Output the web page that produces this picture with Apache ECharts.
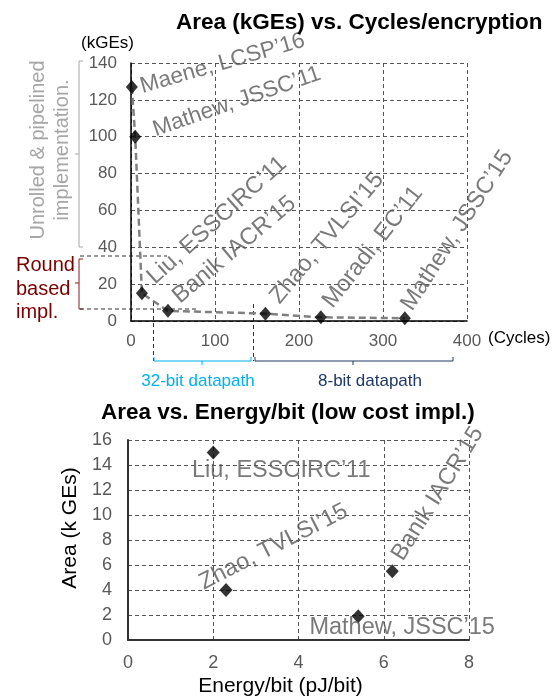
<!DOCTYPE html>
<html>
<head>
<meta charset="utf-8">
<script src="https://cdn.jsdelivr.net/npm/echarts@6/dist/echarts.min.js"></script>
<style>
html,body{margin:0;padding:0;background:#fff;}
#c{width:559px;height:698px;}
</style>
</head>
<body>
<div id="c"></div>
<script>
// ---- Data: top chart (Area vs Cycles/encryption) ----
const cycleNames = ['Maene, LCSP’16','Mathew, JSSC’11','Liu, ESSCIRC’11','Banik IACR’15','Zhao, TVLSI’15','Moradi, EC’11','Mathew, JSSC’15'];
const cycles = [1, 5, 13, 44, 160, 226, 326];
const areaKGE = [127, 100, 15, 5.5, 4, 2, 1.5];
const cycleTicks = [0, 100, 200, 300, 400];
const areaTicks = [0, 20, 40, 60, 80, 100, 120, 140];

// ---- Data: bottom chart (Area vs Energy/bit) ----
const energyNames = ['Liu, ESSCIRC’11','Zhao, TVLSI’15','Mathew, JSSC’15','Banik IACR’15'];
const energyPJ = [2.0, 2.3, 5.4, 6.2];
const areaLow = [15, 4, 1.9, 5.5];

// ---- Label styling (not data) ----
const topLabelStyle = {
  'Maene, LCSP’16':   {position:'right', rotate:16, distance:3, offset:[0,0], size:22.5},
  'Mathew, JSSC’11':  {position:'right', rotate:19, distance:0, offset:[14,-2], size:22.5},
  'Liu, ESSCIRC’11':  {position:'right', rotate:42, distance:0, offset:[11,-8], size:23.5},
  'Banik IACR’15':    {position:'right', rotate:40, distance:0, offset:[9,-8], size:23.5},
  'Zhao, TVLSI’15':   {position:'right', rotate:50, distance:0, offset:[12,-6], size:23.5},
  'Moradi, EC’11':    {position:'right', rotate:52, distance:0, offset:[10,-7], size:23.5},
  'Mathew, JSSC’15':  {position:'right', rotate:57, distance:0, offset:[6,-9], size:23.5}
};
const botLabelStyle = {
  'Liu, ESSCIRC’11':  {position:'bottom', rotate:0, distance:0, offset:[68,11], align:'center'},
  'Zhao, TVLSI’15':   {position:'left', rotate:27, distance:0, offset:[-14,-14], align:'left'},
  'Mathew, JSSC’15':  {position:'inside', rotate:0, distance:0, offset:[44,11], align:'center'},
  'Banik IACR’15':    {position:'right', rotate:58, distance:0, offset:[10,-8], align:'left'}
};

const FONT = 'Liberation Sans, Arial, sans-serif';
const GRAY = '#595959';
const gridLine = {show:true, lineStyle:{color:'#555', width:1, type:[4,3]}};

const topPoints = cycles.map((c,i)=>{
  const s = topLabelStyle[cycleNames[i]];
  return {value:[c, areaKGE[i]], name:cycleNames[i],
    label:{show:true, formatter:cycleNames[i], position:s.position, rotate:s.rotate, distance:s.distance, offset:s.offset, fontSize:s.size, align:'left', verticalAlign:'middle'}};
});
const botPoints = energyPJ.map((e,i)=>{
  const s = botLabelStyle[energyNames[i]];
  return {value:[e, areaLow[i]], name:energyNames[i],
    label:{show:true, formatter:energyNames[i], position:s.position, rotate:s.rotate, distance:s.distance, offset:s.offset, align:s.align, verticalAlign:'middle'}};
});

const chart = echarts.init(document.getElementById('c'), null, {renderer:'canvas'});
const option = {
  animation:false,
  backgroundColor:'#fff',
  textStyle:{fontFamily:FONT},
  title:[
    {text:'Area (kGEs) vs. Cycles/encryption', left:171, top:6,
     textStyle:{fontFamily:FONT, fontWeight:'bold', fontSize:22.5, color:'#000'}},
    {text:'Area vs. Energy/bit (low cost impl.)', left:96, top:396,
     textStyle:{fontFamily:FONT, fontWeight:'bold', fontSize:22.5, color:'#000'}}
  ],
  grid:[
    {left:131, right:92, top:63, bottom:377, containLabel:false},
    {left:128, right:90, top:440, bottom:57, containLabel:false}
  ],
  xAxis:[
    {gridIndex:0, type:'value', min:cycleTicks[0], max:cycleTicks[cycleTicks.length-1], interval:100,
     axisLine:{show:true, onZero:false, lineStyle:{color:'#000', width:1.5}},
     axisTick:{show:false}, splitLine:gridLine,
     axisLabel:{color:GRAY, fontSize:17, margin:12, fontFamily:FONT},
     name:'(Cycles)', nameLocation:'end', nameGap:21,
     nameTextStyle:{color:'#000', fontSize:17, fontFamily:FONT, align:'left', verticalAlign:'top', padding:[9,0,0,0]}},
    {gridIndex:1, type:'value', min:0, max:8, interval:2,
     axisLine:{show:true, onZero:false, lineStyle:{color:'#333', width:2}},
     axisTick:{show:false}, splitLine:gridLine,
     axisLabel:{color:GRAY, fontSize:18, margin:14, fontFamily:FONT},
     name:'Energy/bit (pJ/bit)', nameLocation:'middle', nameGap:36,
     nameTextStyle:{color:'#000', fontSize:21, fontFamily:FONT, padding:[0,36,0,0]}}
  ],
  yAxis:[
    {gridIndex:0, type:'value', min:areaTicks[0], max:areaTicks[areaTicks.length-1], interval:20,
     axisLine:{show:true, onZero:false, lineStyle:{color:'#000', width:1.5}},
     axisTick:{show:false}, splitLine:gridLine,
     axisLabel:{color:GRAY, fontSize:17, margin:14, fontFamily:FONT},
     name:'(kGEs)', nameLocation:'end', nameGap:11,
     nameTextStyle:{color:'#000', fontSize:17, fontFamily:FONT, align:'right', padding:[0,-3,0,0]}},
    {gridIndex:1, type:'value', min:0, max:16, interval:2,
     axisLine:{show:true, onZero:false, lineStyle:{color:'#333', width:2}},
     axisTick:{show:false}, splitLine:gridLine,
     axisLabel:{color:GRAY, fontSize:18, margin:16, fontFamily:FONT},
     name:'Area (k GEs)', nameLocation:'middle', nameGap:32,
     nameTextStyle:{color:'#000', fontSize:21, fontFamily:FONT, padding:[0,0,0,24]}}
  ],
  series:[
    {type:'line', xAxisIndex:0, yAxisIndex:0, data:cycles.map((c,i)=>[c, areaKGE[i]]),
     symbol:'none', lineStyle:{color:'#808080', width:2.5, type:[7,4]}, z:2, silent:true},
    {type:'scatter', xAxisIndex:0, yAxisIndex:0, data:topPoints, symbol:'diamond', symbolSize:[12,14],
     itemStyle:{color:'#000'}, z:5,
     label:{color:GRAY, fontSize:23.5, fontFamily:FONT}},
    {type:'scatter', xAxisIndex:1, yAxisIndex:1, data:botPoints, symbol:'diamond', symbolSize:[13,14],
     itemStyle:{color:'#000'}, z:5,
     label:{color:GRAY, fontSize:23.5, fontFamily:FONT}}
  ],
  graphic:[
    // gray bracket (unrolled & pipelined)
    {type:'polyline', shape:{points:[[83,61],[79,61],[79,247],[83,247]]}, style:{stroke:'#a6a6a6', lineWidth:1, fill:null}},
    {type:'line', shape:{x1:79,y1:154,x2:75,y2:154}, style:{stroke:'#a6a6a6', lineWidth:1}},
    {type:'text', x:50, y:150, rotation:Math.PI/2,
     style:{text:'Unrolled & pipelined\nimplementation.', fill:'#a6a6a6', font:'20px '+FONT, align:'center', verticalAlign:'middle', lineHeight:24}},
    // red bracket (round based)
    {type:'polyline', shape:{points:[[83,259],[79,259],[79,309],[83,309]]}, style:{stroke:'#8b1a1a', lineWidth:1, fill:null}},
    {type:'line', shape:{x1:79,y1:283,x2:75,y2:283}, style:{stroke:'#8b1a1a', lineWidth:1}},
    {type:'text', x:16, y:289,
     style:{text:'Round\nbased\nimpl.', fill:'#7a0000', font:'20px '+FONT, align:'left', verticalAlign:'middle', lineHeight:23.5}},
    // thin dashed guides
    {type:'line', shape:{x1:80,y1:256,x2:167,y2:256}, style:{stroke:'#333', lineWidth:1, lineDash:[4,3]}},
    {type:'line', shape:{x1:80,y1:309,x2:196,y2:309}, style:{stroke:'#333', lineWidth:1, lineDash:[4,3]}},
    {type:'line', shape:{x1:153.5,y1:302,x2:153.5,y2:361}, style:{stroke:'#333', lineWidth:1, lineDash:[4,3]}},
    {type:'line', shape:{x1:253.5,y1:304,x2:253.5,y2:361}, style:{stroke:'#333', lineWidth:1, lineDash:[4,3]}},
    // 32-bit bracket
    {type:'polyline', shape:{points:[[154,357],[154,361],[251,361],[251,357]]}, style:{stroke:'#00b0f0', lineWidth:1, fill:null}},
    {type:'line', shape:{x1:202,y1:361,x2:202,y2:365}, style:{stroke:'#00b0f0', lineWidth:1}},
    {type:'text', x:198, y:381, style:{text:'32-bit datapath', fill:'#00b0f0', font:'17px '+FONT, align:'center', verticalAlign:'middle'}},
    // 8-bit bracket
    {type:'polyline', shape:{points:[[255,357],[255,361],[453,361],[453,357]]}, style:{stroke:'#1f3864', lineWidth:1, fill:null}},
    {type:'line', shape:{x1:353,y1:361,x2:353,y2:365}, style:{stroke:'#1f3864', lineWidth:1}},
    {type:'text', x:370, y:381, style:{text:'8-bit datapath', fill:'#1f3864', font:'17px '+FONT, align:'center', verticalAlign:'middle'}}
  ]
};
chart.setOption(option);
</script>
</body>
</html>
